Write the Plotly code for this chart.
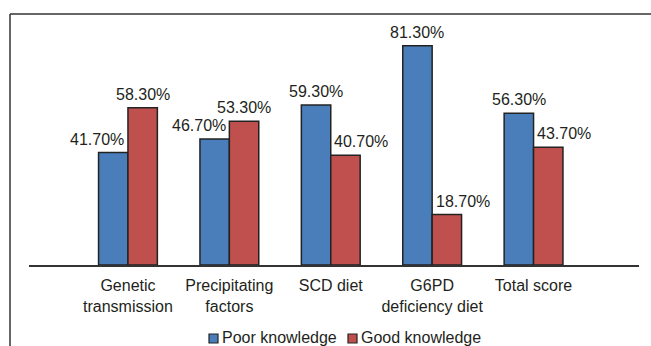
import plotly.graph_objects as go

categories = ["Genetic<br>transmission", "Precipitating<br>factors", "SCD diet",
              "G6PD<br>deficiency diet", "Total score"]
poor_knowledge = [41.7, 46.7, 59.3, 81.3, 56.3]
good_knowledge = [58.3, 53.3, 40.7, 18.7, 43.7]
series_names = ["Poor knowledge", "Good knowledge"]

W, H = 651, 346
L, R, T, B = 29, 12, 22, 81
plot_w = W - L - R
plot_h = H - T - B
FONT = "Liberation Sans, Arial, sans-serif"
FS = 16
TXT = "#231f20"
BLUE = "#4a7ebb"
RED = "#c0504d"
EDGE = "#222222"
colors = [BLUE, RED]

fig = go.Figure()
for name, vals, col in zip(series_names, [poor_knowledge, good_knowledge], colors):
    fig.add_trace(go.Bar(x=categories, y=vals, name=name, showlegend=False,
                         marker=dict(color=col, line=dict(color=EDGE, width=1.5))))

# value labels: label of the shorter bar of each pair is nudged outward
half = 0.145
for i, (p, g) in enumerate(zip(poor_knowledge, good_knowledge)):
    for val, off, shorter_shift in ((p, -half, -16 if p < g else 0),
                                     (g, half, 16 if g < p else 0)):
        fig.add_annotation(x=i + off, y=val, xref="x", yref="y",
                           text=f"{val:.2f}%", showarrow=False,
                           yanchor="bottom", xanchor="center",
                           xshift=shorter_shift, yshift=3,
                           font=dict(family=FONT, size=FS, color=TXT))

def px_x(px):
    return (px - L) / plot_w

def px_y(py):
    return (H - B - py) / plot_h

# outer frame (left and top edges visible)
fig.add_shape(type="line", xref="paper", yref="paper",
              x0=px_x(10), x1=px_x(10), y0=px_y(14), y1=px_y(360),
              line=dict(color="#333333", width=1.5))
fig.add_shape(type="line", xref="paper", yref="paper",
              x0=px_x(10), x1=px_x(660), y0=px_y(14), y1=px_y(14),
              line=dict(color="#333333", width=1.5))

# legend (small outlined squares + labels, as in the reference)
legend_x = [209, 348]
for name, col, lx in zip(series_names, colors, legend_x):
    fig.add_shape(type="rect", xref="paper", yref="paper",
                  x0=px_x(lx), x1=px_x(lx + 9), y0=px_y(343), y1=px_y(334),
                  fillcolor=col, line=dict(color=EDGE, width=1.2))
    fig.add_annotation(xref="paper", yref="paper", x=px_x(lx + 11), y=px_y(337.5),
                       xanchor="left", yanchor="middle", showarrow=False,
                       text=name, font=dict(family=FONT, size=FS, color=TXT))

fig.update_layout(
    width=W, height=H,
    margin=dict(l=L, r=R, t=T, b=B, autoexpand=False),
    paper_bgcolor="white", plot_bgcolor="white",
    barmode="group", bargap=0.42, bargroupgap=0,
    font=dict(family=FONT, size=FS, color=TXT),
    showlegend=False,
    xaxis=dict(range=[-0.976, 5.04], showline=True, linecolor="#333333",
               linewidth=1.5, showgrid=False, ticks="", zeroline=False,
               automargin=False, ticklabelstandoff=5,
               tickfont=dict(family=FONT, size=FS, color=TXT)),
    yaxis=dict(range=[0, 90.1], visible=False, showgrid=False, zeroline=False,
               automargin=False),
)

fig.write_html("out.html", config={"displayModeBar": False},
               post_script="document.body.style.margin='0';document.body.style.overflow='hidden';")
